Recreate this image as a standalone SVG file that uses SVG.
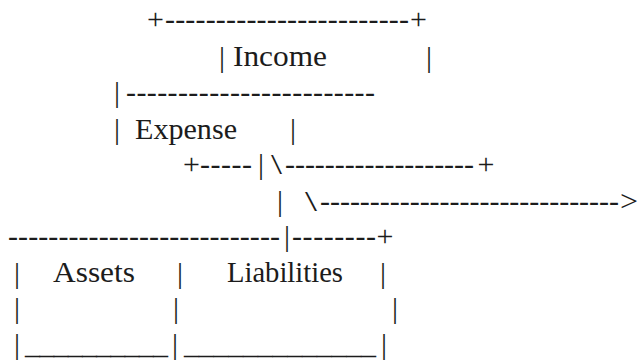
<svg xmlns="http://www.w3.org/2000/svg" width="638" height="362" viewBox="0 0 638 362">
<style>
text{font-family:"Liberation Serif","Times New Roman",serif;font-size:30px;fill:#1a1a1a}
.m{text-anchor:middle}
</style>
<rect width="638" height="362" fill="#fff"/>
<g opacity="0.99">
<g id="income">
<text x="155.5" y="29" class="m">+</text>
<text x="165" y="29" textLength="244" lengthAdjust="spacing">------------------------</text>
<text x="418.5" y="29" class="m">+</text>
<text x="222" y="66.5" class="m">|</text>
<text x="233" y="66" textLength="94" lengthAdjust="spacingAndGlyphs">Income</text>
<text x="429" y="66.5" class="m">|</text>
</g>
<g id="expense">
<text x="117" y="101.5" class="m">|</text>
<text x="126" y="101.5" textLength="249" lengthAdjust="spacing">------------------------</text>
<text x="117" y="138.5" class="m">|</text>
<text x="135" y="139" textLength="102" lengthAdjust="spacingAndGlyphs">Expense</text>
<text x="293" y="138.5" class="m">|</text>
</g>
<g id="connectors">
<text x="191.5" y="173.5" class="m">+</text>
<text x="200" y="173.5" textLength="52" lengthAdjust="spacing">-----</text>
<text x="261" y="173.5" class="m">|</text>
<text x="271" y="173.5" textLength="11" lengthAdjust="spacingAndGlyphs">\</text>
<text x="285" y="173.5" textLength="189" lengthAdjust="spacing">-------------------</text>
<text x="486" y="173.5" class="m">+</text>
<text x="280" y="210.5" class="m">|</text>
<text x="305" y="210.5" textLength="12" lengthAdjust="spacingAndGlyphs">\</text>
<text x="320" y="210.5" textLength="299" lengthAdjust="spacing">------------------------------</text>
<text x="620" y="210.5" textLength="18" lengthAdjust="spacingAndGlyphs">&gt;</text>
<text x="8" y="245.5" textLength="272" lengthAdjust="spacing">---------------------------</text>
<text x="287" y="245.5" class="m">|</text>
<text x="292" y="245.5" textLength="84" lengthAdjust="spacing">--------</text>
<text x="385" y="245.5" class="m">+</text>
</g>
<g id="assets">
<text x="17" y="282.5" class="m">|</text>
<text x="53" y="282" textLength="82" lengthAdjust="spacingAndGlyphs">Assets</text>
<text x="17" y="318" class="m">|</text>
<text x="17" y="353.5" class="m">|</text>
<text x="25" y="353.5" textLength="143" lengthAdjust="spacing">__________</text>
</g>
<g id="liabilities">
<text x="180" y="282.5" class="m">|</text>
<text x="227" y="282" textLength="116" lengthAdjust="spacingAndGlyphs">Liabilities</text>
<text x="383" y="282.5" class="m">|</text>
<text x="176" y="318" class="m">|</text>
<text x="395" y="318" class="m">|</text>
<text x="175" y="353.5" class="m">|</text>
<text x="184" y="353.5" textLength="192" lengthAdjust="spacing">_____________</text>
<text x="384" y="353.5" class="m">|</text>
</g>
</g>
</svg>
